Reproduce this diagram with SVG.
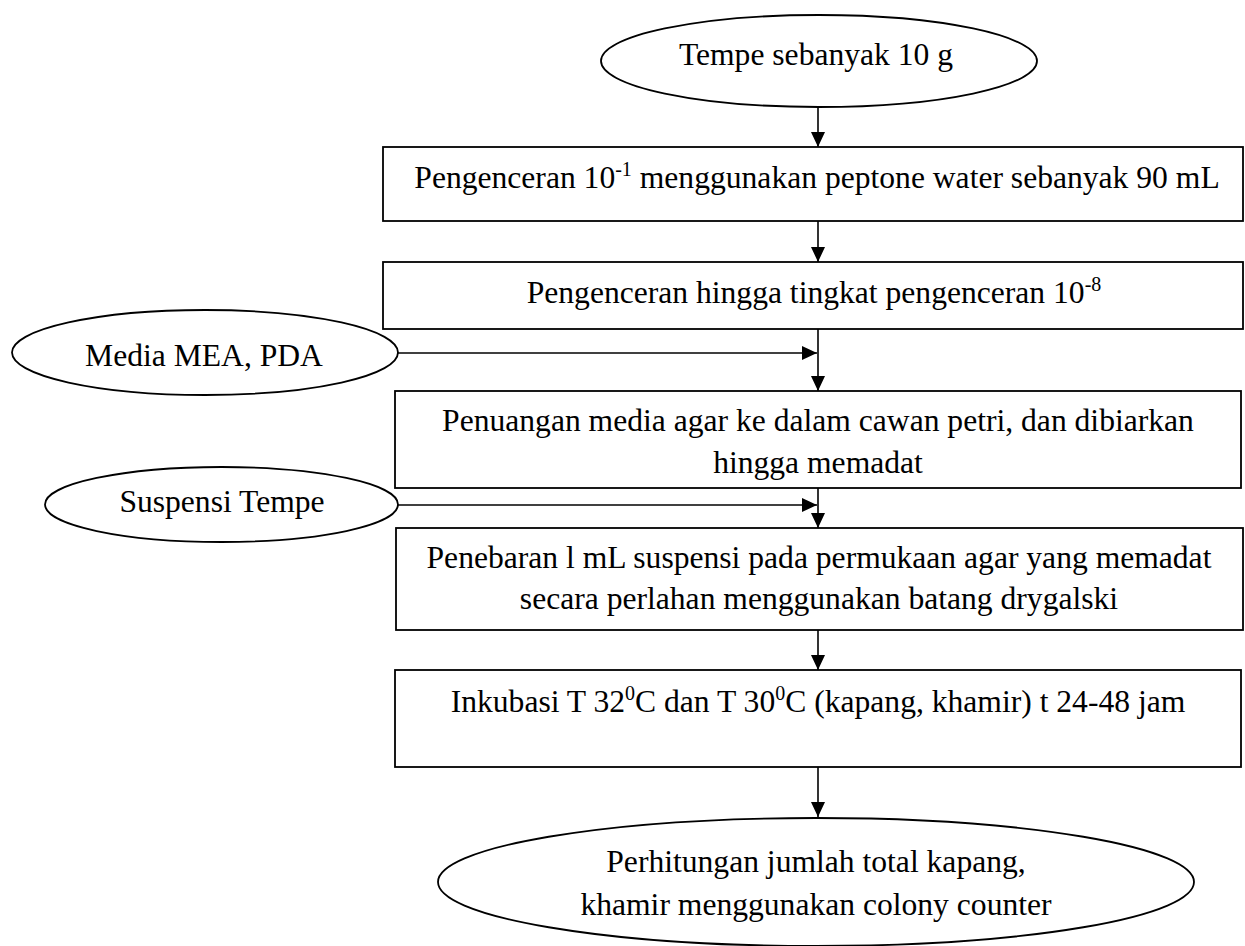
<svg xmlns="http://www.w3.org/2000/svg" width="1245" height="946" viewBox="0 0 1245 946">
<defs>
<style>
.n{fill:#fff;stroke:#000;stroke-width:1.8}
.t{font-family:"Liberation Serif","Times New Roman",serif;font-size:31.6px;fill:#000;text-anchor:middle}
.s{font-size:20px}
.c{stroke:#000;stroke-width:1.6;fill:none;marker-end:url(#ah)}
</style>
<marker id="ah" markerUnits="userSpaceOnUse" markerWidth="15" markerHeight="14" refX="15" refY="7" orient="auto">
<path d="M0,0 L15,7 L0,14 Z" fill="#000"/>
</marker>
</defs>
<rect width="1245" height="946" fill="#fff"/>
<g id="connectors">
<line class="c" x1="818" y1="107" x2="818" y2="147"/>
<line class="c" x1="818" y1="221" x2="818" y2="262"/>
<line class="c" x1="818" y1="329" x2="818" y2="391"/>
<line class="c" x1="398" y1="353" x2="817" y2="353"/>
<line class="c" x1="818" y1="488" x2="818" y2="528"/>
<line class="c" x1="398" y1="505" x2="817" y2="505"/>
<line class="c" x1="818" y1="630" x2="818" y2="670"/>
<line class="c" x1="818" y1="767" x2="818" y2="817"/>
</g>
<g id="n_tempe">
<ellipse class="n" cx="819" cy="61" rx="218" ry="46"/>
<text class="t" x="816" y="65">Tempe sebanyak 10 g</text>
</g>
<g id="n_pengenceran1">
<rect class="n" x="383" y="147" width="860" height="74"/>
<text class="t" x="817" y="188">Pengenceran 10<tspan class="s" dy="-12">-1</tspan><tspan dy="12"> menggunakan peptone water sebanyak 90 mL</tspan></text>
</g>
<g id="n_pengenceran2">
<rect class="n" x="383" y="262" width="860" height="67"/>
<text class="t" x="814" y="303">Pengenceran hingga tingkat pengenceran 10<tspan class="s" dy="-12">-8</tspan></text>
</g>
<g id="n_media">
<ellipse class="n" cx="205" cy="352.5" rx="193" ry="42.5"/>
<text class="t" x="204" y="366">Media MEA, PDA</text>
</g>
<g id="n_penuangan">
<rect class="n" x="395" y="391" width="846" height="97"/>
<text class="t" x="818" y="431">Penuangan media agar ke dalam cawan petri, dan dibiarkan</text>
<text class="t" x="818" y="473">hingga memadat</text>
</g>
<g id="n_suspensi">
<ellipse class="n" cx="221.5" cy="504.5" rx="176.5" ry="37.5"/>
<text class="t" x="222" y="512">Suspensi Tempe</text>
</g>
<g id="n_penebaran">
<rect class="n" x="396" y="528" width="847" height="102"/>
<text class="t" x="819" y="568">Penebaran l mL suspensi pada permukaan agar yang memadat</text>
<text class="t" x="819" y="609">secara perlahan menggunakan batang drygalski</text>
</g>
<g id="n_inkubasi">
<rect class="n" x="395" y="670" width="846" height="97"/>
<text class="t" x="818" y="712">Inkubasi T 32<tspan class="s" dy="-12">0</tspan><tspan dy="12">C dan T 30</tspan><tspan class="s" dy="-12">0</tspan><tspan dy="12">C (kapang, khamir) t 24-48 jam</tspan></text>
</g>
<g id="n_perhitungan">
<ellipse class="n" cx="816" cy="882" rx="378" ry="64"/>
<text class="t" x="816" y="872">Perhitungan jumlah total kapang,</text>
<text class="t" x="816" y="915">khamir menggunakan colony counter</text>
</g>
</svg>
